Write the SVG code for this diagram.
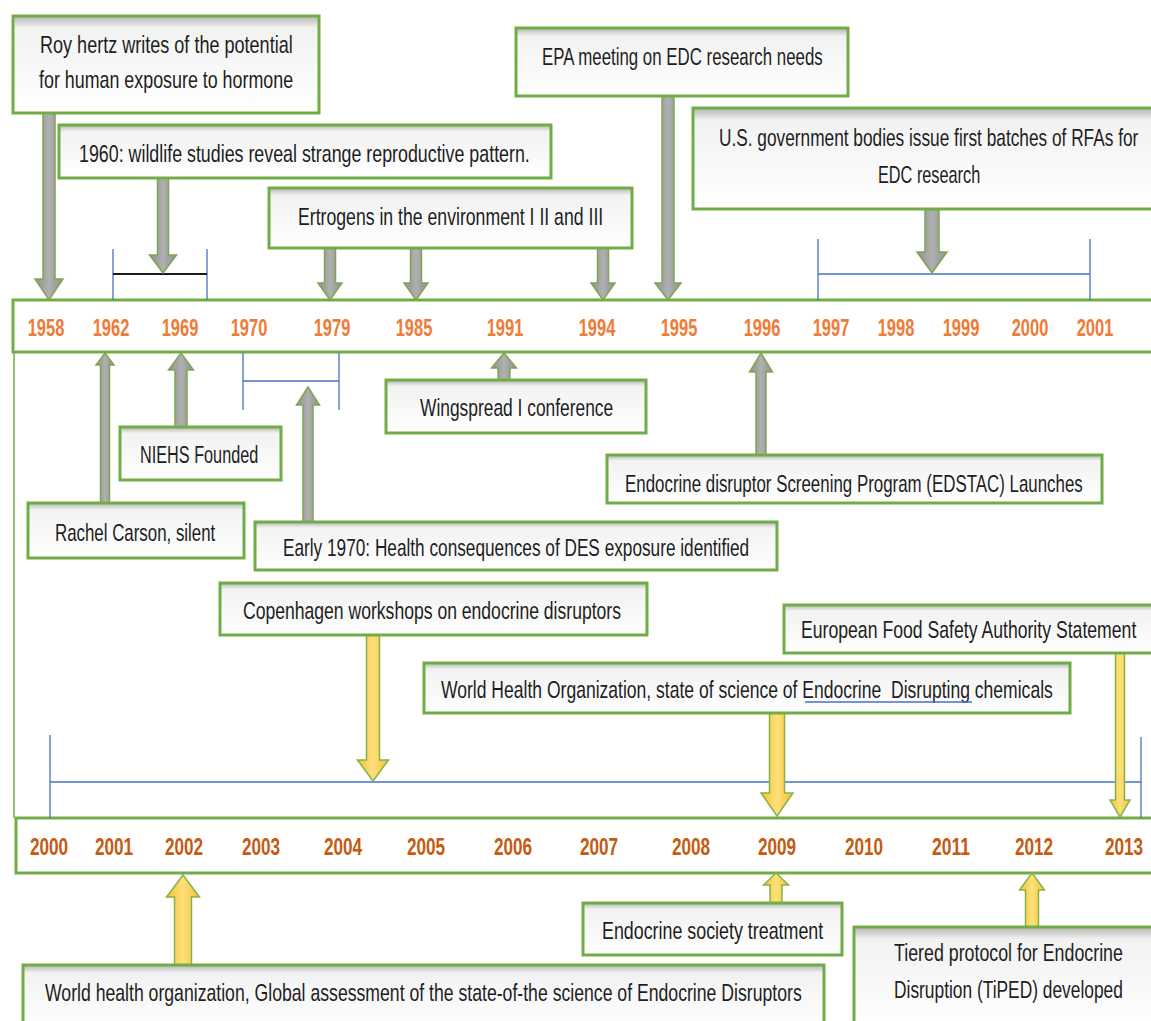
<svg xmlns="http://www.w3.org/2000/svg" width="1151" height="1021" viewBox="0 0 1151 1021">
<defs>
<linearGradient id="boxfill" x1="0" y1="0" x2="0" y2="1">
<stop offset="0" stop-color="#b4b4b4"/>
<stop offset="0.12" stop-color="#f2f2f2"/>
<stop offset="1" stop-color="#ffffff"/>
</linearGradient>
<linearGradient id="grayarrow" x1="0" y1="0" x2="1" y2="0">
<stop offset="0" stop-color="#8f8f8f"/>
<stop offset="0.5" stop-color="#b0b0b0"/>
<stop offset="1" stop-color="#8f8f8f"/>
</linearGradient>
<linearGradient id="yelarrow" x1="0" y1="0" x2="1" y2="0">
<stop offset="0" stop-color="#f2c232"/>
<stop offset="0.5" stop-color="#ffe07a"/>
<stop offset="1" stop-color="#f2c232"/>
</linearGradient>
</defs>
<style>
.box{fill:url(#boxfill);stroke:#70ad47;stroke-width:3}
.band{fill:#ffffff;stroke:#70ad47;stroke-width:3}
.lbl{font-family:"Liberation Sans",Arial,sans-serif;font-size:24px;fill:#1e1e1e}
.yt{font-family:"Liberation Sans",Arial,sans-serif;font-size:23px;font-weight:bold;fill:#f07b36;text-anchor:middle}
.yb{font-family:"Liberation Sans",Arial,sans-serif;font-size:23px;font-weight:bold;fill:#c55a11;text-anchor:middle}
.ga{fill:url(#grayarrow);stroke:#7ea650;stroke-width:1.5}
.ya{fill:url(#yelarrow);stroke:#86b24a;stroke-width:1.5}
.bl{stroke:#4472c4;stroke-width:1.3;fill:none}
.blk{stroke:#1a1a1a;stroke-width:2;fill:none}
.gl{stroke:#70ad47;stroke-width:1.5;fill:none}
</style>
<rect width="1151" height="1021" fill="#ffffff"/>

<g id="bands">
<line class="gl" x1="14" y1="352" x2="14" y2="818"/>
<rect class="band" x="13" y="300" width="1147" height="52"/>
<rect class="band" x="16" y="818" width="1144" height="55"/>
</g>

<g id="years-top">
<text class="yt" transform="translate(46,336) scale(0.72,1)" textLength="51" lengthAdjust="spacingAndGlyphs">1958</text>
<text class="yt" transform="translate(111,336) scale(0.72,1)" textLength="51" lengthAdjust="spacingAndGlyphs">1962</text>
<text class="yt" transform="translate(180,336) scale(0.72,1)" textLength="51" lengthAdjust="spacingAndGlyphs">1969</text>
<text class="yt" transform="translate(249,336) scale(0.72,1)" textLength="51" lengthAdjust="spacingAndGlyphs">1970</text>
<text class="yt" transform="translate(332,336) scale(0.72,1)" textLength="51" lengthAdjust="spacingAndGlyphs">1979</text>
<text class="yt" transform="translate(414,336) scale(0.72,1)" textLength="51" lengthAdjust="spacingAndGlyphs">1985</text>
<text class="yt" transform="translate(505,336) scale(0.72,1)" textLength="51" lengthAdjust="spacingAndGlyphs">1991</text>
<text class="yt" transform="translate(597,336) scale(0.72,1)" textLength="51" lengthAdjust="spacingAndGlyphs">1994</text>
<text class="yt" transform="translate(679,336) scale(0.72,1)" textLength="51" lengthAdjust="spacingAndGlyphs">1995</text>
<text class="yt" transform="translate(762,336) scale(0.72,1)" textLength="51" lengthAdjust="spacingAndGlyphs">1996</text>
<text class="yt" transform="translate(831,336) scale(0.72,1)" textLength="51" lengthAdjust="spacingAndGlyphs">1997</text>
<text class="yt" transform="translate(896,336) scale(0.72,1)" textLength="51" lengthAdjust="spacingAndGlyphs">1998</text>
<text class="yt" transform="translate(961,336) scale(0.72,1)" textLength="51" lengthAdjust="spacingAndGlyphs">1999</text>
<text class="yt" transform="translate(1030,336) scale(0.72,1)" textLength="51" lengthAdjust="spacingAndGlyphs">2000</text>
<text class="yt" transform="translate(1095,336) scale(0.72,1)" textLength="51" lengthAdjust="spacingAndGlyphs">2001</text>
</g>

<g id="years-bottom">
<text class="yb" transform="translate(49,855) scale(0.72,1)" textLength="53" lengthAdjust="spacingAndGlyphs">2000</text>
<text class="yb" transform="translate(114,855) scale(0.72,1)" textLength="53" lengthAdjust="spacingAndGlyphs">2001</text>
<text class="yb" transform="translate(184,855) scale(0.72,1)" textLength="53" lengthAdjust="spacingAndGlyphs">2002</text>
<text class="yb" transform="translate(261,855) scale(0.72,1)" textLength="53" lengthAdjust="spacingAndGlyphs">2003</text>
<text class="yb" transform="translate(343,855) scale(0.72,1)" textLength="53" lengthAdjust="spacingAndGlyphs">2004</text>
<text class="yb" transform="translate(426,855) scale(0.72,1)" textLength="53" lengthAdjust="spacingAndGlyphs">2005</text>
<text class="yb" transform="translate(513,855) scale(0.72,1)" textLength="53" lengthAdjust="spacingAndGlyphs">2006</text>
<text class="yb" transform="translate(599,855) scale(0.72,1)" textLength="53" lengthAdjust="spacingAndGlyphs">2007</text>
<text class="yb" transform="translate(691,855) scale(0.72,1)" textLength="53" lengthAdjust="spacingAndGlyphs">2008</text>
<text class="yb" transform="translate(777,855) scale(0.72,1)" textLength="53" lengthAdjust="spacingAndGlyphs">2009</text>
<text class="yb" transform="translate(864,855) scale(0.72,1)" textLength="53" lengthAdjust="spacingAndGlyphs">2010</text>
<text class="yb" transform="translate(951,855) scale(0.72,1)" textLength="53" lengthAdjust="spacingAndGlyphs">2011</text>
<text class="yb" transform="translate(1034,855) scale(0.72,1)" textLength="53" lengthAdjust="spacingAndGlyphs">2012</text>
<text class="yb" transform="translate(1124,855) scale(0.72,1)" textLength="53" lengthAdjust="spacingAndGlyphs">2013</text>
</g>

<g id="connectors">
<line class="bl" x1="113" y1="249" x2="113" y2="300"/>
<line class="bl" x1="207" y1="249" x2="207" y2="300"/>
<line class="blk" x1="113" y1="274" x2="207" y2="274"/>
<line class="bl" x1="818" y1="239" x2="818" y2="300"/>
<line class="bl" x1="1090" y1="239" x2="1090" y2="300"/>
<line class="bl" x1="818" y1="274" x2="1090" y2="274"/>
<line class="bl" x1="243" y1="353" x2="243" y2="410"/>
<line class="bl" x1="339" y1="353" x2="339" y2="410"/>
<line class="bl" x1="243" y1="381" x2="339" y2="381"/>
<line class="bl" x1="50" y1="735" x2="50" y2="818"/>
<line class="bl" x1="1141" y1="737" x2="1141" y2="818"/>
<line class="bl" x1="50" y1="782" x2="1141" y2="782"/>
<path class="ga" d="M43,113 L55,113 L55,279 L63,279 L49,300 L35,279 L43,279 Z"/>
<path class="ga" d="M157.5,178 L168.5,178 L168.5,255 L176.5,255 L163,273 L149.5,255 L157.5,255 Z"/>
<path class="ga" d="M324.5,248 L335.5,248 L335.5,283 L342,283 L330,300 L318,283 L324.5,283 Z"/>
<path class="ga" d="M410.5,248 L421.5,248 L421.5,283 L428,283 L416,300 L404,283 L410.5,283 Z"/>
<path class="ga" d="M597.5,248 L608.5,248 L608.5,283 L615,283 L603,300 L591,283 L597.5,283 Z"/>
<path class="ga" d="M662,96 L674,96 L674,283 L681,283 L668,300 L655,283 L662,283 Z"/>
<path class="ga" d="M925,209 L939,209 L939,252 L947,252 L932,273 L917,252 L925,252 Z"/>
<path class="ga" d="M100.5,503 L109.5,503 L109.5,365 L114,365 L105,353 L96,365 L100.5,365 Z"/>
<path class="ga" d="M175,427 L187,427 L187,370 L193.5,370 L181,353 L168.5,370 L175,370 Z"/>
<path class="ga" d="M303,522 L313,522 L313,405 L319.5,405 L308,387 L296.5,405 L303,405 Z"/>
<path class="ga" d="M498,380 L510,380 L510,368 L516.5,368 L504,353 L491.5,368 L498,368 Z"/>
<path class="ga" d="M756,455 L766,455 L766,372 L772.5,372 L761,353 L749.5,372 L756,372 Z"/>
<path class="ya" d="M366.5,635 L379.5,635 L379.5,760 L388.5,760 L373,781 L357.5,760 L366.5,760 Z"/>
<path class="ya" d="M769.5,713 L784.5,713 L784.5,793 L793,793 L777,816 L761,793 L769.5,793 Z"/>
<path class="ya" d="M1115.5,653 L1124.5,653 L1124.5,800 L1130,800 L1120,817 L1110,800 L1115.5,800 Z"/>
<path class="ya" d="M174.5,965 L191.5,965 L191.5,897 L199.5,897 L183,875 L166.5,897 L174.5,897 Z"/>
<path class="ya" d="M770,903 L782,903 L782,885 L788.5,885 L776,873 L763.5,885 L770,885 Z"/>
<path class="ya" d="M1025.5,927 L1038.5,927 L1038.5,890 L1044.5,890 L1032,873 L1019.5,890 L1025.5,890 Z"/>
</g>

<g id="node-roy-hertz">
<rect class="box" x="13" y="16" width="306" height="97"/>
<text class="lbl" transform="translate(40,53) scale(0.7,1)" textLength="361" lengthAdjust="spacingAndGlyphs">Roy hertz writes of the potential</text>
<text class="lbl" transform="translate(39,88) scale(0.7,1)" textLength="363" lengthAdjust="spacingAndGlyphs">for human exposure to hormone</text>
</g>
<g id="node-wildlife">
<rect class="box" x="59" y="125" width="492" height="53"/>
<text class="lbl" transform="translate(79,162) scale(0.7,1)" textLength="644" lengthAdjust="spacingAndGlyphs">1960: wildlife studies reveal strange reproductive pattern.</text>
</g>
<g id="node-ertrogens">
<rect class="box" x="269" y="188" width="363" height="60"/>
<text class="lbl" transform="translate(298,225) scale(0.7,1)" textLength="436" lengthAdjust="spacingAndGlyphs">Ertrogens in the environment I II and III</text>
</g>
<g id="node-epa">
<rect class="box" x="516" y="28" width="332" height="68"/>
<text class="lbl" transform="translate(542,65) scale(0.7,1)" textLength="401" lengthAdjust="spacingAndGlyphs">EPA meeting on EDC research needs</text>
</g>
<g id="node-rfas">
<rect class="box" x="693" y="108" width="467" height="101"/>
<text class="lbl" transform="translate(719,146) scale(0.7,1)" textLength="599" lengthAdjust="spacingAndGlyphs">U.S. government bodies issue first batches of RFAs for</text>
<text class="lbl" transform="translate(878,183) scale(0.7,1)" textLength="146" lengthAdjust="spacingAndGlyphs">EDC research</text>
</g>
<g id="node-rachel">
<rect class="box" x="28" y="503" width="216" height="55"/>
<text class="lbl" transform="translate(55,541) scale(0.7,1)" textLength="229" lengthAdjust="spacingAndGlyphs">Rachel Carson, silent</text>
</g>
<g id="node-niehs">
<rect class="box" x="120" y="427" width="161" height="53"/>
<text class="lbl" transform="translate(140,463) scale(0.7,1)" textLength="169" lengthAdjust="spacingAndGlyphs">NIEHS Founded</text>
</g>
<g id="node-early1970">
<rect class="box" x="255" y="522" width="522" height="48"/>
<text class="lbl" transform="translate(283,556) scale(0.7,1)" textLength="666" lengthAdjust="spacingAndGlyphs">Early 1970: Health consequences of DES exposure identified</text>
</g>
<g id="node-wingspread">
<rect class="box" x="386" y="380" width="260" height="53"/>
<text class="lbl" transform="translate(420,416) scale(0.7,1)" textLength="276" lengthAdjust="spacingAndGlyphs">Wingspread I conference</text>
</g>
<g id="node-edstac">
<rect class="box" x="607" y="455" width="495" height="48"/>
<text class="lbl" transform="translate(625,492) scale(0.7,1)" textLength="654" lengthAdjust="spacingAndGlyphs">Endocrine disruptor Screening Program (EDSTAC) Launches</text>
</g>
<g id="node-copenhagen">
<rect class="box" x="220" y="583" width="427" height="52"/>
<text class="lbl" transform="translate(243,619) scale(0.7,1)" textLength="540" lengthAdjust="spacingAndGlyphs">Copenhagen workshops on endocrine disruptors</text>
</g>
<g id="node-efsa">
<rect class="box" x="784" y="605" width="376" height="48"/>
<text class="lbl" transform="translate(801,638) scale(0.7,1)" textLength="479" lengthAdjust="spacingAndGlyphs">European Food Safety Authority Statement</text>
</g>
<g id="node-who-state">
<rect class="box" x="424" y="663" width="646" height="50"/>
<text class="lbl" transform="translate(441,698) scale(0.7,1)" textLength="874" lengthAdjust="spacingAndGlyphs" xml:space="preserve">World Health Organization, state of science of Endocrine  Disrupting chemicals</text>
<line x1="805" y1="702" x2="972" y2="702" stroke="#4472c4" stroke-width="1.3"/>
</g>
<g id="node-endo-society">
<rect class="box" x="583" y="903" width="259" height="52"/>
<text class="lbl" transform="translate(602,939) scale(0.7,1)" textLength="316" lengthAdjust="spacingAndGlyphs">Endocrine society treatment</text>
</g>
<g id="node-tiped">
<rect class="box" x="854" y="927" width="306" height="103"/>
<text class="lbl" transform="translate(894,961) scale(0.7,1)" textLength="327" lengthAdjust="spacingAndGlyphs">Tiered protocol for Endocrine</text>
<text class="lbl" transform="translate(894,998) scale(0.7,1)" textLength="327" lengthAdjust="spacingAndGlyphs">Disruption (TiPED) developed</text>
</g>
<g id="node-who-global">
<rect class="box" x="23" y="965" width="801" height="65"/>
<text class="lbl" transform="translate(45,1001) scale(0.7,1)" textLength="1081" lengthAdjust="spacingAndGlyphs">World health organization, Global assessment of the state-of-the science of Endocrine Disruptors</text>
</g>
</svg>
